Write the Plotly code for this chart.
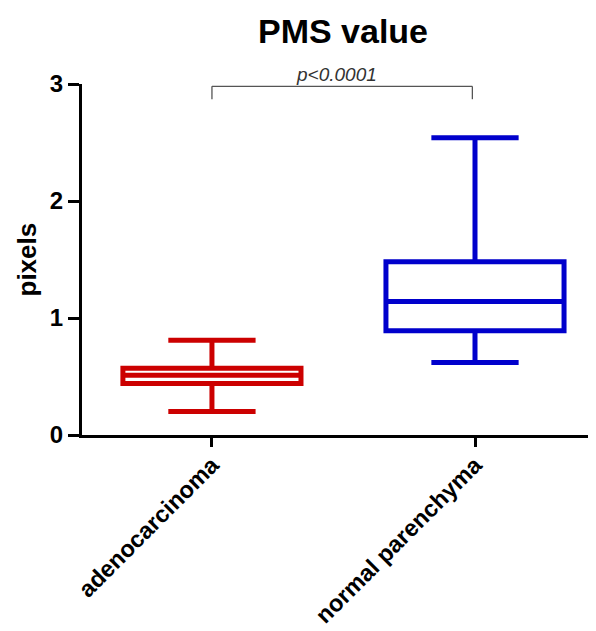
import plotly.graph_objects as go

categories = ["adenocarcinoma", "normal parenchyma"]
lower_whisker = [0.20, 0.62]
q1_values = [0.44, 0.89]
median_values = [0.51, 1.14]
q3_values = [0.57, 1.48]
upper_whisker = [0.81, 2.54]
colors = ["#CC0000", "#0000CC"]
y_ticks = [0, 1, 2, 3]
p_label = "p<0.0001"

FONT = "Liberation Sans, Arial"
W, H = 588, 623  # page body has an 8px margin

fig = go.Figure()
for i, cat in enumerate(categories):
    fig.add_trace(go.Box(
        x=[cat],
        q1=[q1_values[i]], median=[median_values[i]], q3=[q3_values[i]],
        lowerfence=[lower_whisker[i]], upperfence=[upper_whisker[i]],
        line=dict(color=colors[i], width=5),
        fillcolor="rgba(0,0,0,0)",
        width=0.677,
        whiskerwidth=0.49,
        boxpoints=False,
        showlegend=False,
        hoverinfo="skip",
    ))

# significance bracket
bc = "#555555"
fig.add_shape(type="line", xref="x", yref="y", x0=0, x1=0, y0=2.87, y1=2.98,
              line=dict(color=bc, width=1.3))
fig.add_shape(type="line", xref="x", yref="y", x0=0, x1=0.99, y0=2.98, y1=2.98,
              line=dict(color=bc, width=1.3))
fig.add_shape(type="line", xref="x", yref="y", x0=0.99, x1=0.99, y0=2.87, y1=2.98,
              line=dict(color=bc, width=1.3))
fig.add_annotation(x=0.475, y=2.98, xref="x", yref="y", text="<i>" + p_label + "</i>",
                   showarrow=False, yanchor="bottom", yshift=-1,
                   font=dict(family=FONT, size=19, color="#333333"))

# y-axis title
fig.add_annotation(x=0, y=0.5, xref="paper", yref="paper", xshift=-56,
                   text="<b>pixels</b>", textangle=-90, showarrow=False,
                   xanchor="center", yanchor="middle",
                   font=dict(family=FONT, size=26, color="black"))

fig.update_layout(
    width=W, height=H,
    margin=dict(l=74, r=0, t=76, b=196, autoexpand=False),
    paper_bgcolor="white", plot_bgcolor="white",
    font=dict(family=FONT, color="black"),
    title=dict(text="<b>PMS value</b>", x=335 / W, xanchor="center",
               y=1 - 23 / H, yanchor="middle",
               font=dict(size=34, color="black")),
)
fig.update_xaxes(
    type="category", range=[-0.494, 1.46], automargin=False,
    tickvals=categories, ticktext=["<b>%s</b>" % c for c in categories],
    showline=True, linecolor="black", linewidth=3,
    ticks="outside", ticklen=9, tickwidth=3, tickcolor="black",
    tickangle=-45, tickfont=dict(size=23.5, color="black", family=FONT),
    ticklabelstandoff=-5,
    showgrid=False, zeroline=False,
)
fig.update_yaxes(
    range=[0, 3], automargin=False,
    tickvals=y_ticks, ticktext=["<b>%d</b>" % v for v in y_ticks],
    showline=True, linecolor="black", linewidth=3,
    ticks="outside", ticklen=11, tickwidth=3, tickcolor="black",
    tickfont=dict(size=24, color="black", family=FONT),
    showgrid=False, zeroline=False,
)

fig.write_html("out.html")
